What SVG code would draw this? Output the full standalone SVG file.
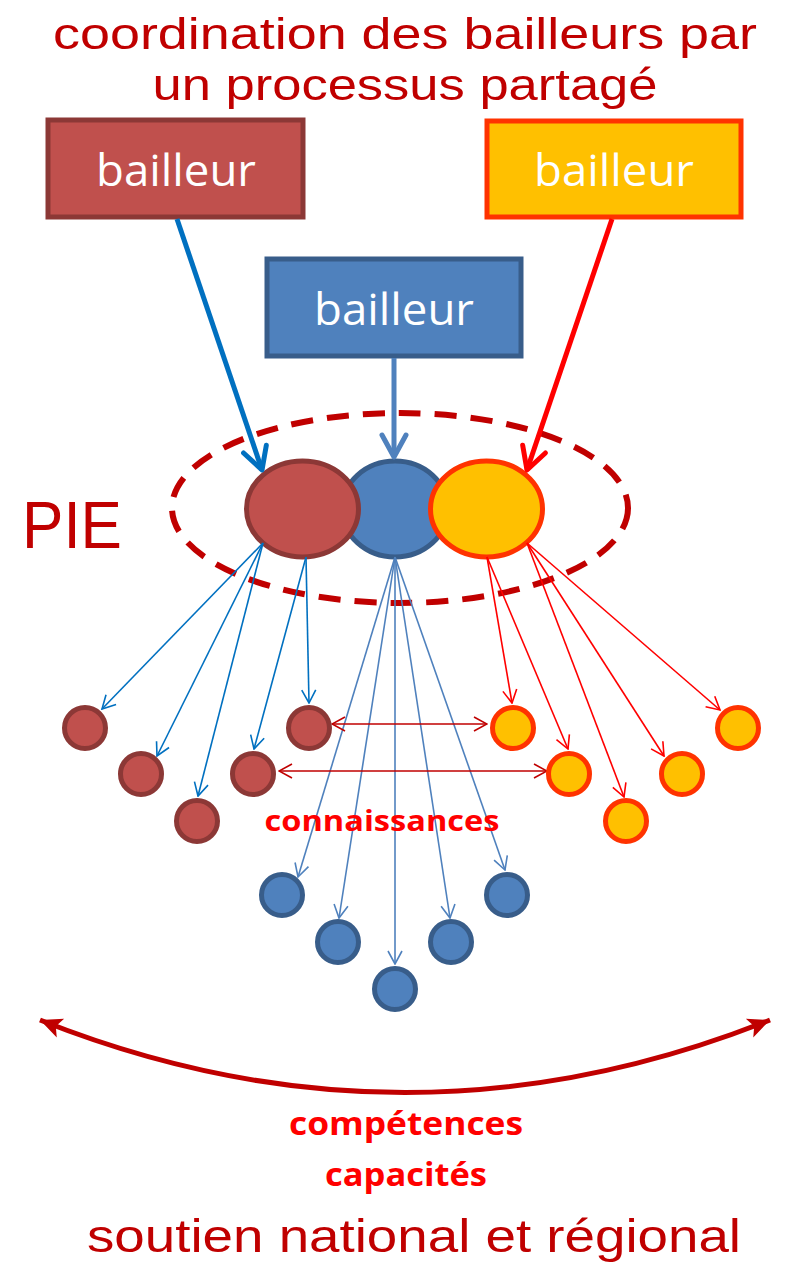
<svg xmlns="http://www.w3.org/2000/svg" width="787" height="1265" viewBox="0 0 787 1265">
<style>
  .title{font-family:"Liberation Sans","Open Sans",sans-serif;fill:#C00000;text-anchor:middle}
  .lbl{font-family:"Open Sans","Liberation Sans",sans-serif;fill:#FFFFFF;text-anchor:middle;font-size:44px}
  .bold{font-family:"Open Sans","Liberation Sans",sans-serif;fill:#FF0000;font-weight:bold;text-anchor:middle}
  .cR{fill:#C0504D;stroke:#8C3836;stroke-width:5}
  .cB{fill:#4F81BD;stroke:#385D8A;stroke-width:5}
  .cY{fill:#FFC000;stroke:#FF3300;stroke-width:5}
  .tB{stroke:#0070C0;stroke-width:1.6;fill:none}
  .tL{stroke:#4F81BD;stroke-width:1.6;fill:none}
  .tR{stroke:#FF0000;stroke-width:1.6;fill:none}
  .tD{stroke:#C00000;stroke-width:1.6;fill:none}
</style>
<defs>
  <marker id="mB" viewBox="0 0 16 16" markerWidth="16" markerHeight="16" refX="15" refY="8" orient="auto" markerUnits="userSpaceOnUse"><path d="M2,1 L15,8 L2,15" fill="none" stroke="#0070C0" stroke-width="1.6"/></marker>
  <marker id="mL" viewBox="0 0 16 16" markerWidth="16" markerHeight="16" refX="15" refY="8" orient="auto" markerUnits="userSpaceOnUse"><path d="M2,1 L15,8 L2,15" fill="none" stroke="#4F81BD" stroke-width="1.6"/></marker>
  <marker id="mR" viewBox="0 0 16 16" markerWidth="16" markerHeight="16" refX="15" refY="8" orient="auto" markerUnits="userSpaceOnUse"><path d="M2,1 L15,8 L2,15" fill="none" stroke="#FF0000" stroke-width="1.6"/></marker>
  <marker id="mD" viewBox="0 0 16 16" markerWidth="16" markerHeight="16" refX="15" refY="8" orient="auto-start-reverse" markerUnits="userSpaceOnUse"><path d="M2,1 L15,8 L2,15" fill="none" stroke="#C00000" stroke-width="1.6"/></marker>
  <marker id="MB" viewBox="0 0 30 30" markerWidth="30" markerHeight="30" refX="26" refY="15" orient="auto" markerUnits="userSpaceOnUse"><path d="M4,3 L26,15 L4,27" fill="none" stroke="#0070C0" stroke-width="5" stroke-linecap="round" stroke-linejoin="round"/></marker>
  <marker id="ML" viewBox="0 0 30 30" markerWidth="30" markerHeight="30" refX="26" refY="15" orient="auto" markerUnits="userSpaceOnUse"><path d="M4,3 L26,15 L4,27" fill="none" stroke="#4F81BD" stroke-width="5" stroke-linecap="round" stroke-linejoin="round"/></marker>
  <marker id="MR" viewBox="0 0 30 30" markerWidth="30" markerHeight="30" refX="26" refY="15" orient="auto" markerUnits="userSpaceOnUse"><path d="M4,3 L26,15 L4,27" fill="none" stroke="#FF0000" stroke-width="5" stroke-linecap="round" stroke-linejoin="round"/></marker>
  <marker id="MT" viewBox="0 0 24 24" markerWidth="24" markerHeight="24" refX="22" refY="12" orient="auto-start-reverse" markerUnits="userSpaceOnUse"><path d="M0,2 L22,12 L0,22 L5,12 Z" fill="#C00000"/></marker>
</defs>

<g id="title">
  <text class="title" x="405" y="49" font-size="44" textLength="704" lengthAdjust="spacingAndGlyphs">coordination des bailleurs par</text>
  <text class="title" x="405" y="100" font-size="44" textLength="505" lengthAdjust="spacingAndGlyphs">un processus partagé</text>
</g>

<g id="box-red"><rect x="48" y="120" width="255" height="97" fill="#C0504D" stroke="#8C3836" stroke-width="5"/><text class="lbl" x="176" y="186" textLength="160" lengthAdjust="spacingAndGlyphs">bailleur</text></g>
<g id="box-yellow"><rect x="487" y="121" width="254" height="96" fill="#FFC000" stroke="#FF3300" stroke-width="5"/><text class="lbl" x="614" y="186" textLength="160" lengthAdjust="spacingAndGlyphs">bailleur</text></g>
<g id="box-blue"><rect x="267" y="259" width="254" height="97" fill="#4F81BD" stroke="#385D8A" stroke-width="5"/><text class="lbl" x="394" y="325" textLength="160" lengthAdjust="spacingAndGlyphs">bailleur</text></g>

<g id="pie-label"><text class="title" x="22" y="548" font-size="66" style="text-anchor:start" textLength="100" lengthAdjust="spacingAndGlyphs">PIE</text></g>

<g id="pie-ellipse"><ellipse cx="400" cy="508" rx="228" ry="95" fill="none" stroke="#C00000" stroke-width="6" stroke-dasharray="22 14"/></g>

<g id="ell-blue"><ellipse class="cB" cx="395" cy="509" rx="53" ry="48"/></g>
<g id="ell-red"><ellipse class="cR" cx="302.5" cy="509" rx="56" ry="48"/></g>
<g id="ell-yellow"><ellipse class="cY" cx="486.5" cy="509" rx="56" ry="48"/></g>

<g id="connectors">
  <line x1="177" y1="219" x2="262" y2="470" stroke="#0070C0" stroke-width="5" marker-end="url(#MB)"/>
  <line x1="394" y1="358" x2="394" y2="457" stroke="#4F81BD" stroke-width="5" marker-end="url(#ML)"/>
  <line x1="612" y1="219" x2="527" y2="470" stroke="#FF0000" stroke-width="5" marker-end="url(#MR)"/>

  <line class="tB" x1="263" y1="543" x2="102" y2="709" marker-end="url(#mB)"/>
  <line class="tB" x1="263" y1="543" x2="157" y2="756" marker-end="url(#mB)"/>
  <line class="tB" x1="263" y1="543" x2="198" y2="796" marker-end="url(#mB)"/>
  <line class="tB" x1="306" y1="557" x2="254" y2="749" marker-end="url(#mB)"/>
  <line class="tB" x1="306" y1="557" x2="309" y2="703" marker-end="url(#mB)"/>

  <line class="tL" x1="395" y1="557" x2="298" y2="877" marker-end="url(#mL)"/>
  <line class="tL" x1="395" y1="557" x2="339" y2="918" marker-end="url(#mL)"/>
  <line class="tL" x1="395" y1="557" x2="395" y2="964" marker-end="url(#mL)"/>
  <line class="tL" x1="395" y1="557" x2="450" y2="918" marker-end="url(#mL)"/>
  <line class="tL" x1="395" y1="557" x2="505" y2="870" marker-end="url(#mL)"/>

  <line class="tR" x1="487" y1="557" x2="512" y2="703" marker-end="url(#mR)"/>
  <line class="tR" x1="487" y1="557" x2="568" y2="749" marker-end="url(#mR)"/>
  <line class="tR" x1="527" y1="543" x2="624" y2="797" marker-end="url(#mR)"/>
  <line class="tR" x1="527" y1="543" x2="664" y2="756" marker-end="url(#mR)"/>
  <line class="tR" x1="527" y1="543" x2="720" y2="710" marker-end="url(#mR)"/>

  <line class="tD" x1="332" y1="724" x2="487" y2="724" marker-start="url(#mD)" marker-end="url(#mD)"/>
  <line class="tD" x1="279" y1="771" x2="547" y2="771" marker-start="url(#mD)" marker-end="url(#mD)"/>

  <path d="M 40,1020 Q 405,1165 770,1020" fill="none" stroke="#C00000" stroke-width="5" marker-start="url(#MT)" marker-end="url(#MT)"/>
</g>

<g id="red-nodes">
  <circle class="cR" cx="85" cy="728" r="20.5"/>
  <circle class="cR" cx="141" cy="774" r="20.5"/>
  <circle class="cR" cx="197" cy="821" r="20.5"/>
  <circle class="cR" cx="253" cy="774" r="20.5"/>
  <circle class="cR" cx="309" cy="728" r="20.5"/>
</g>
<g id="blue-nodes">
  <circle class="cB" cx="282" cy="895" r="20.5"/>
  <circle class="cB" cx="338" cy="942" r="20.5"/>
  <circle class="cB" cx="395" cy="989" r="20.5"/>
  <circle class="cB" cx="451" cy="942" r="20.5"/>
  <circle class="cB" cx="507" cy="895" r="20.5"/>
</g>
<g id="yellow-nodes">
  <circle class="cY" cx="513" cy="728" r="20.5"/>
  <circle class="cY" cx="569" cy="774" r="20.5"/>
  <circle class="cY" cx="626" cy="821" r="20.5"/>
  <circle class="cY" cx="682" cy="774" r="20.5"/>
  <circle class="cY" cx="738" cy="728" r="20.5"/>
</g>

<g id="labels">
  <text class="bold" x="382" y="831" font-size="28" textLength="235" lengthAdjust="spacingAndGlyphs">connaissances</text>
  <text class="bold" x="406" y="1135" font-size="32" textLength="234" lengthAdjust="spacingAndGlyphs">compétences</text>
  <text class="bold" x="406" y="1186" font-size="32" textLength="162" lengthAdjust="spacingAndGlyphs">capacités</text>
  <text class="title" x="414" y="1252" font-size="46" textLength="654" lengthAdjust="spacingAndGlyphs">soutien national et régional</text>
</g>
</svg>
